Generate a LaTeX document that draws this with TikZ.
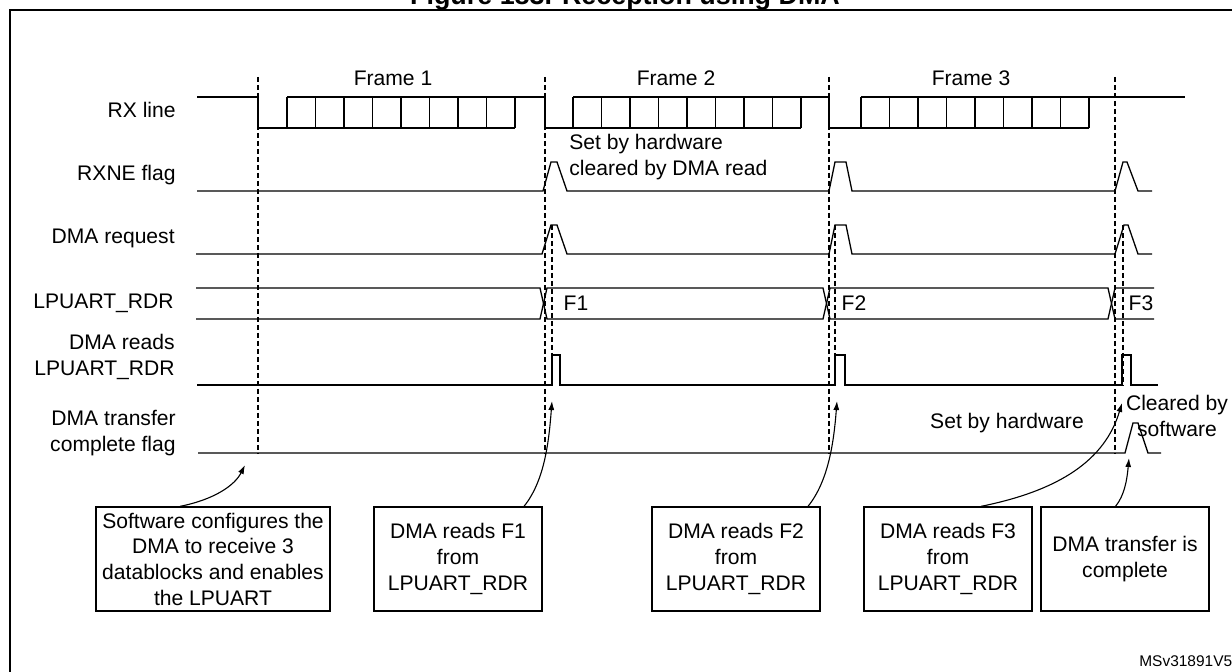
\documentclass[tikz,border=0pt]{standalone}
\usepackage{fontspec}
\setmainfont{Liberation Sans}
\usetikzlibrary{arrows.meta}
\tikzset{sig/.style = {line width=0.026cm}}
\tikzset{guide/.style = {line width=0.026cm, dash pattern=on 0.1cm off 0.06cm}}
\tikzset{txt/.style = {font=\fontsize{12}{14.6}\selectfont, inner sep=0}}
\tikzset{box/.style = {draw, line width=0.026cm, txt, align=center, minimum width=3.36cm, minimum height=2.08cm}}
\tikzset{arr/.style = {line width=0.022cm, -{Latex[length=0.18cm,width=0.12cm]}}}

\begin{document}
\begin{tikzpicture}[x=0.02cm, y=-0.02cm]
    \useasboundingbox (0,0) rectangle (1232,672);
    \clip (0,0) rectangle (1232,672);
    \node[font=\fontsize{15.3}{18}\selectfont\bfseries, anchor=base, inner sep=0] (title) at (625,5) {Figure 183. Reception using DMA};
    \draw[line width=0.05cm] (10,10) rectangle (1260,700);

    \node[txt, anchor=east] (rx) at (176,110) {RX line};
    \node[txt, anchor=east] (rxne) at (176,175) {RXNE flag};
    \node[txt, anchor=east] (req) at (175,238) {DMA request};
    \node[txt, anchor=east] (rdr) at (174,303) {LPUART\_RDR};
    \node[txt, anchor=east, align=right] (rd) at (175,357) {DMA reads\\LPUART\_RDR};
    \node[txt, anchor=east, align=right] (tc) at (176,433) {DMA transfer\\complete flag};

    \node[txt] (fr1) at (393,78) {Frame 1};
    \node[txt] (fr2) at (676,78) {Frame 2};
    \node[txt] (fr3) at (971,78) {Frame 3};

    \foreach \x in {258,545,829,1115} \draw[guide] (\x,77) -- (\x,453);
    \foreach \x in {552,835,1123} \draw[guide] (\x,225) -- (\x,385);

    \draw[sig] (197,97) -- (258,97) -- (258,128) -- (515,128);
    \draw[sig] (287,97) -- (545,97) -- (545,128) -- (801,128);
    \draw[sig] (573,97) -- (829,97) -- (829,128) -- (1089,128);
    \draw[sig] (861,97) -- (1185,97);
    \foreach \s in {287,573,861}
        \foreach \k in {0,...,8}
            \draw[sig] ({\s+28.5*\k},97) -- ({\s+28.5*\k},128);

    \draw[sig] (197,191) -- (543,191) -- (551,162) -- (557,162) -- (567,191) -- (829,191) -- (835,162) -- (846,162) -- (852,191) -- (1115,191) -- (1123,162) -- (1127,162) -- (1138,191) -- (1152,191);
    \draw[sig] (196,254) -- (542,254) -- (551,225) -- (557,225) -- (567,254) -- (829,254) -- (835,225) -- (846,225) -- (852,254) -- (1115,254) -- (1124,225) -- (1128,225) -- (1138,254) -- (1152,254);
    \draw[sig] (196,288) -- (540,288) -- (547,319) -- (823,319) -- (830,288) -- (1108,288) -- (1115,319) -- (1154,319);
    \draw[sig] (196,319) -- (540,319) -- (547,288) -- (823,288) -- (830,319) -- (1108,319) -- (1115,288) -- (1154,288);
    \draw[sig] (197,385) -- (552,385) -- (552,355) -- (560,355) -- (560,385) -- (835,385) -- (835,355) -- (845,355) -- (845,385) -- (1122,385) -- (1122,355) -- (1131,355) -- (1131,385) -- (1158,385);
    \draw[sig] (198,453) -- (1125,453) -- (1133,423) -- (1138,423) -- (1148,453) -- (1161,453);

    \node[txt] (d1) at (576,303) {F1};
    \node[txt] (d2) at (854,303) {F2};
    \node[txt] (d3) at (1141,303) {F3};

    \node[txt, anchor=west, align=left] (hwset) at (569,157) {Set by hardware\\cleared by DMA read};
    \node[txt] (tcset) at (1007,423) {Set by hardware};
    \node[txt, align=center] (tcclr) at (1177,416) {Cleared by\\software};

    \node[box, minimum width=4.68cm] (cfg) at (213,559) {Software configures the\\DMA to receive 3\\datablocks and enables\\the LPUART};
    \node[box] (rd1) at (458,559) {DMA reads F1\\from\\LPUART\_RDR};
    \node[box] (rd2) at (736,559) {DMA reads F2\\from\\LPUART\_RDR};
    \node[box] (rd3) at (948,559) {DMA reads F3\\from\\LPUART\_RDR};
    \node[box] (done) at (1125,559) {DMA transfer is\\complete};

    \coordinate (c0) at (245,465);
    \coordinate (c1) at (552,401);
    \coordinate (c2) at (837,401);
    \coordinate (c3) at (1122,403);
    \coordinate (c4) at (1129,458);
    \draw[arr] ([xshift=-0.66cm]cfg.north) .. controls +(35,-7) and +(-10,20) .. (c0);
    \draw[arr] ([xshift=1.32cm]rd1.north) .. controls +(21,-26) and +(-3,39) .. (c1);
    \draw[arr] ([xshift=1.44cm]rd2.north) .. controls +(21,-26) and +(-3,39) .. (c2);
    \draw[arr] ([xshift=0.66cm]rd3.north) .. controls +(79,-16) and +(-17,57) .. (c3);
    \draw[arr] ([xshift=-0.19cm]done.north) .. controls +(9,-11) and +(-2,22) .. (c4);

    \node[font=\fontsize{8.8}{10}\selectfont, inner sep=0, anchor=west] (ref) at (1139,661) {MSv31891V5};
\end{tikzpicture}
\end{document}
